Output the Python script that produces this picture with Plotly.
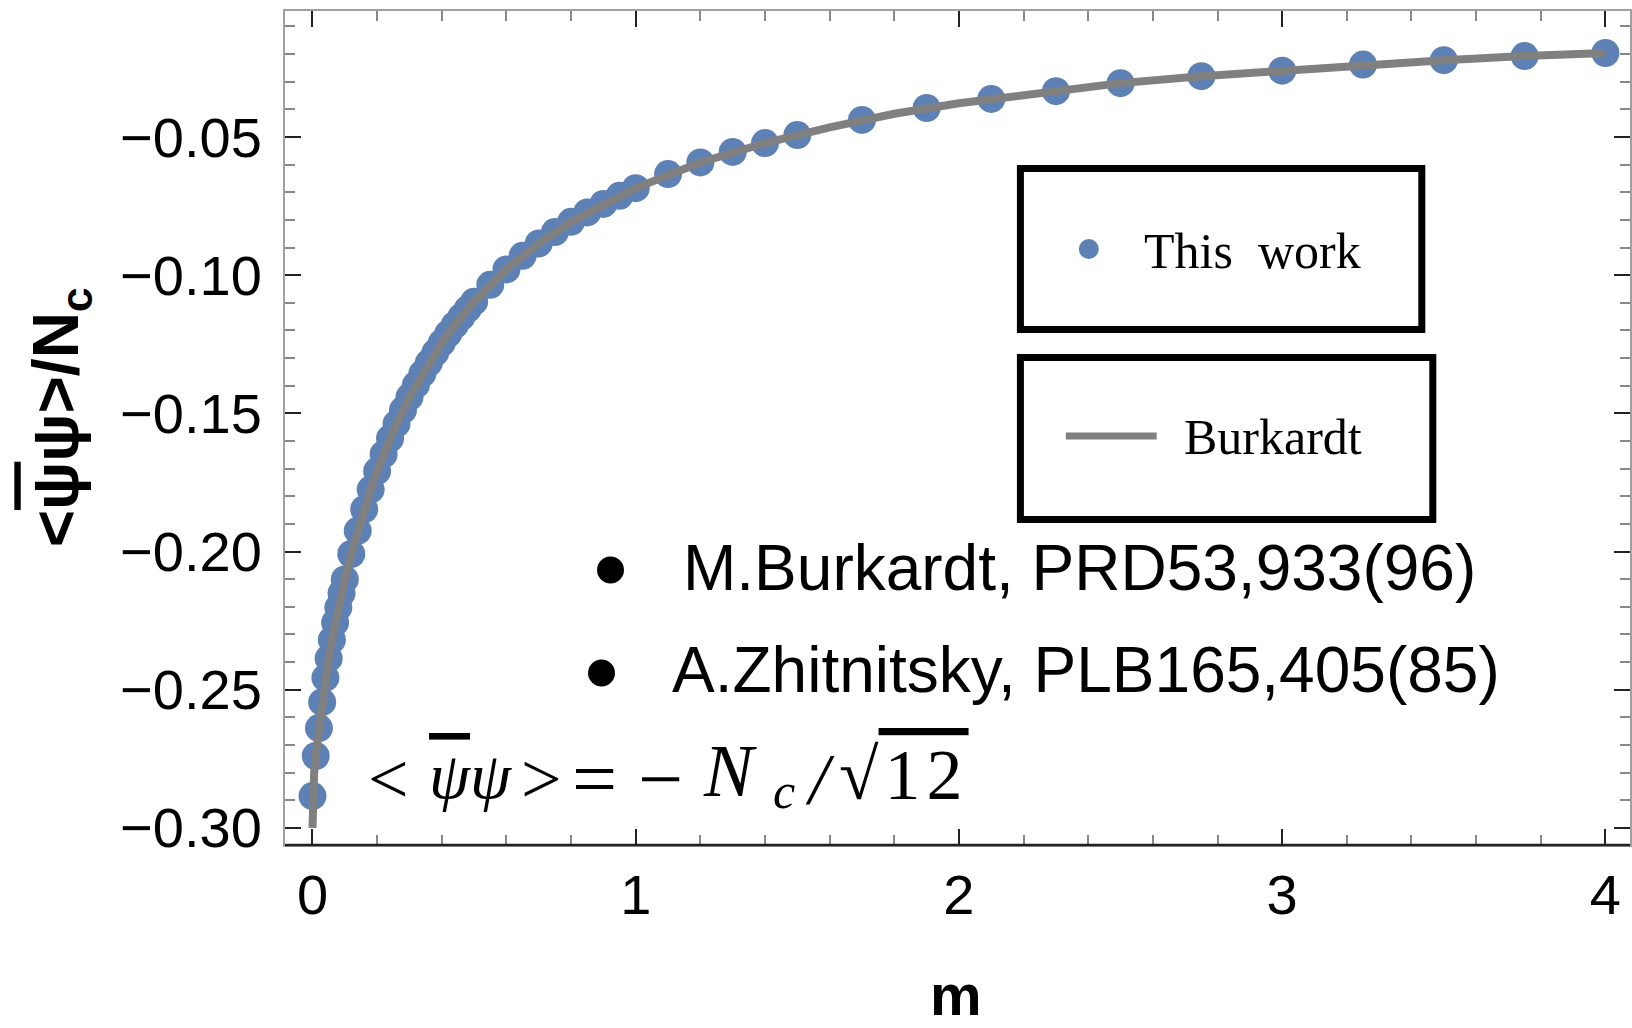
import plotly.graph_objects as go

# ---------------- data ----------------
m_work = [0.00, 0.01, 0.02, 0.03, 0.04, 0.05, 0.06, 0.07, 0.08, 0.09, 0.10,
          0.12, 0.14, 0.16, 0.18, 0.20, 0.22, 0.24, 0.26, 0.28, 0.30,
          0.32, 0.34, 0.36, 0.38, 0.40, 0.42, 0.44, 0.46, 0.48, 0.50,
          0.55, 0.60, 0.65, 0.70, 0.75, 0.80, 0.85, 0.90, 0.95, 1.00,
          1.10, 1.20, 1.30, 1.40, 1.50, 1.70, 1.90, 2.10, 2.30, 2.50,
          2.75, 3.00, 3.25, 3.50, 3.75, 4.00]
cond_work = [-0.2885, -0.2740, -0.2639, -0.2545, -0.2457, -0.2387, -0.2320, -0.2257, -0.2203, -0.2151, -0.2101,
             -0.2009, -0.1925, -0.1847, -0.1776, -0.1709, -0.1648, -0.1591, -0.1538, -0.1488, -0.1441,
             -0.1397, -0.1356, -0.1317, -0.1280, -0.1245, -0.1212, -0.1181, -0.1152, -0.1123, -0.1096,
             -0.1035, -0.0979, -0.0930, -0.0885, -0.0844, -0.0807, -0.0773, -0.0742, -0.0713, -0.0685,
             -0.0634, -0.0592, -0.0554, -0.0522, -0.0493, -0.0438, -0.0395, -0.0362, -0.0334, -0.0305,
             -0.0280, -0.0260, -0.0238, -0.0222, -0.0207, -0.0196]

m_burkardt = [0.000, 0.000, 0.005, 0.01, 0.02, 0.03, 0.04, 0.05, 0.06, 0.07, 0.08, 0.09, 0.10,
              0.12, 0.14, 0.16, 0.18, 0.20, 0.25, 0.30, 0.35, 0.40, 0.45, 0.50,
              0.60, 0.70, 0.80, 0.90, 1.00, 1.20, 1.40, 1.60, 1.80, 2.00, 2.25,
              2.50, 2.75, 3.00, 3.25, 3.50, 3.75, 4.00]
cond_burkardt = [-0.3000, -0.2885, -0.2805, -0.2740, -0.2639, -0.2545, -0.2457, -0.2387, -0.2320, -0.2257, -0.2203, -0.2151, -0.2101,
                 -0.2009, -0.1925, -0.1847, -0.1776, -0.1709, -0.1564, -0.1441, -0.1336, -0.1245, -0.1166, -0.1096,
                 -0.0979, -0.0885, -0.0807, -0.0742, -0.0685, -0.0592, -0.0522, -0.0465, -0.0416, -0.0378, -0.0341,
                 -0.0305, -0.0280, -0.0260, -0.0238, -0.0222, -0.0207, -0.0196]

x_ticks = [0, 1, 2, 3, 4]
y_ticks = [-0.30, -0.25, -0.20, -0.15, -0.10, -0.05]

series_names = ["This work", "Burkardt"]
refs = ["M.Burkardt, PRD53,933(96)", "A.Zhitnitsky, PLB165,405(85)"]

# ---------------- layout geometry ----------------
W, H = 1632, 1028
L, R, T, B = 285, 0, 11, 183
PW, PH = W - L - R, H - T - B


def px(x):
    return (x - L) / PW


def py(y):
    return (H - B - y) / PH


BLUE = "#5E81B5"
GRAY = "#808080"
SANS = "Liberation Sans, Arial, Helvetica, sans-serif"
SERIF = "Liberation Serif, Times New Roman, serif"
OVL = "<span style=\"text-decoration:overline\">{}</span>"

fig = go.Figure()
fig.add_trace(go.Scatter(x=m_work, y=cond_work, mode="markers", name=series_names[0],
                         marker=dict(size=28, color=BLUE, line=dict(width=0)),
                         cliponaxis=False))
fig.add_trace(go.Scatter(x=m_burkardt, y=cond_burkardt, mode="lines", name=series_names[1],
                         line=dict(color=GRAY, width=8), cliponaxis=False))

axis_common = dict(
    showgrid=False, zeroline=False, showline=True, linecolor="#a0a0a0", linewidth=2,
    mirror="ticks", ticks="inside", ticklen=16, tickwidth=2, tickcolor="#222222",
    tickfont=dict(family=SANS, size=56, color="black"),
)

fig.update_layout(
    width=W, height=H,
    margin=dict(l=L, r=R, t=T, b=B, pad=0),
    paper_bgcolor="white", plot_bgcolor="white",
    showlegend=False,
    xaxis=dict(range=[-0.085, 4.076], tickvals=x_ticks, tickformat="d",
               ticklabelstandoff=0,
               minor=dict(dtick=0.2, tick0=0, ticks="inside", ticklen=10, tickwidth=1.5,
                          tickcolor="#888888"),
               **axis_common),
    yaxis=dict(range=[-0.3062, -0.0044], tickvals=y_ticks, tickformat=".2f",
               ticklabelstandoff=10,
               minor=dict(dtick=0.01, tick0=0, ticks="inside", ticklen=10, tickwidth=1.5,
                          tickcolor="#888888"),
               **axis_common),
)

shapes = []
# darker bottom frame line
shapes.append(dict(type="line", xref="paper", yref="paper", x0=0, x1=1, y0=0, y1=0,
                   line=dict(color="#222222", width=2.5)))
# legend boxes
shapes.append(dict(type="rect", xref="paper", yref="paper",
                   x0=px(1021.5), x1=px(1423.5), y0=py(329.5), y1=py(168.5),
                   line=dict(color="black", width=7), fillcolor="white", layer="above"))
shapes.append(dict(type="rect", xref="paper", yref="paper",
                   x0=px(1021.5), x1=px(1434.5), y0=py(519.5), y1=py(357.5),
                   line=dict(color="black", width=7), fillcolor="white", layer="above"))
# legend symbols
shapes.append(dict(type="circle", xref="paper", yref="paper",
                   x0=px(1080), x1=px(1100), y0=py(259), y1=py(239),
                   line=dict(width=0), fillcolor=BLUE, layer="above"))
shapes.append(dict(type="line", xref="paper", yref="paper",
                   x0=px(1067), x1=px(1158), y0=py(436), y1=py(436),
                   line=dict(color=GRAY, width=7), layer="above"))
# bullets
for cx, cy in [(611, 570), (602, 673)]:
    shapes.append(dict(type="circle", xref="paper", yref="paper",
                       x0=px(cx - 13.5), x1=px(cx + 13.5), y0=py(cy + 13.5), y1=py(cy - 13.5),
                       line=dict(width=0), fillcolor="black", layer="above"))

annotations = []


def note(x, y, text, size, family=SANS, xanchor="left", **kw):
    annotations.append(dict(xref="paper", yref="paper", x=px(x), y=py(y), xanchor=xanchor,
                            yanchor="middle", showarrow=False, text=text,
                            font=dict(family=family, size=size, color="black"), **kw))


note(1143, 251, series_names[0].replace(" ", "\u00a0\u00a0"), 50, SERIF)
note(1183, 437, series_names[1], 50, SERIF)
note(682, 568, refs[0], 64)
note(671, 670, refs[1], 64)

# formula  < psi-bar psi > = -N_c / sqrt(12), laid out piece by piece
FY = 775
note(389, FY + 4, "&lt;", 72, SERIF, xanchor="center")
note(471, FY, "<i>" + OVL.format("ψ") + "ψ</i>", 66, SERIF, xanchor="center")
note(542, FY + 4, "&gt;", 72, SERIF, xanchor="center")
note(595, FY + 4, "=", 80, SERIF, xanchor="center")
note(661, FY + 4, "−", 80, SERIF, xanchor="center")
note(731, FY - 4, "<i>N</i>", 74, SERIF, xanchor="center")
note(785, FY + 16, "<i>c</i>", 50, SERIF, xanchor="center")
note(821, FY + 4, "<i>/</i>", 72, SERIF, xanchor="center")
note(838, FY, "√" + OVL.format("\u200a1\u200a2\u200a"), 72, SERIF)

# axis titles
note(957, 994, "<b>m</b>", 58, xanchor="center")
note(60, 417, "<b>&lt;" + OVL.format("ψ") + "ψ&gt;/N<sub>c</sub></b>", 64,
     xanchor="center", textangle=-90)

fig.update_layout(shapes=shapes, annotations=annotations)
fig.write_html("out.html")
